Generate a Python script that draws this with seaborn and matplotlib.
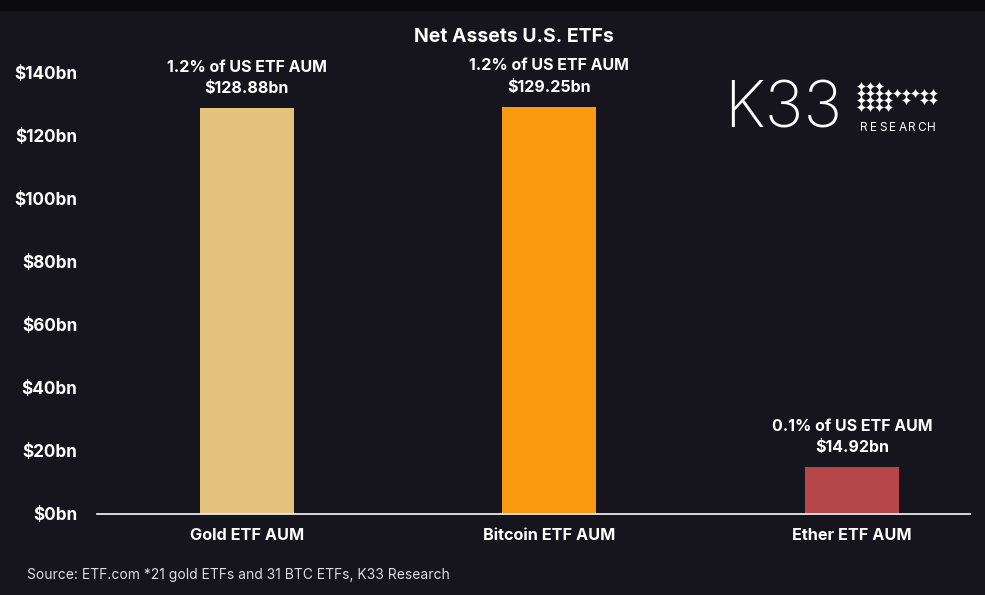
import matplotlib
matplotlib.use("Agg")
import matplotlib.pyplot as plt
import seaborn as sns
import pandas as pd
from matplotlib.patches import Rectangle

categories = ["Gold ETF AUM", "Bitcoin ETF AUM", "Ether ETF AUM"]
values = [128.88, 129.25, 14.92]
shares = ["1.2% of US ETF AUM", "1.2% of US ETF AUM", "0.1% of US ETF AUM"]
value_labels = ["$128.88bn", "$129.25bn", "$14.92bn"]
colors = ["#e2c27c", "#f99a10", "#b4464a"]
yticks = [0, 20, 40, 60, 80, 100, 120, 140]
ytick_labels = ["$0bn", "$20bn", "$40bn", "$60bn", "$80bn", "$100bn", "$120bn", "$140bn"]

bg = "#16151d"
sns.set_theme(style="dark")
plt.rcParams["font.family"] = ["Inter", "DejaVu Sans"]

fig = plt.figure(figsize=(9.85, 5.95), dpi=100, facecolor=bg)
ax = fig.add_axes([97/985, 81/595, 873/985, 459/595])
ax.set_facecolor(bg)

df = pd.DataFrame({"cat": categories, "val": values})
sns.barplot(data=df, x="cat", y="val", hue="cat", palette=colors, width=0.31,
            legend=False, ax=ax, saturation=1, linewidth=0)

ax.set_xlim(-0.495, 2.39)
ax.set_ylim(0, 145.7)
ax.set_yticks(yticks)
ax.set_yticklabels(ytick_labels, color="white", fontsize=12.3, fontweight="bold")
ax.tick_params(axis="y", length=0, pad=14)
ax.tick_params(axis="x", length=0, pad=10, labelsize=11.7, labelcolor="white")
for t in ax.get_xticklabels():
    t.set_fontweight("bold")
ax.set_xlabel("")
ax.set_ylabel("")
ax.grid(False)
for s in ["top", "right", "left"]:
    ax.spines[s].set_visible(False)
ax.spines["bottom"].set_color("#e8e8e8")
ax.spines["bottom"].set_linewidth(1.3)

for i, (v, s, vl) in enumerate(zip(values, shares, value_labels)):
    ax.annotate(s, (i, v), xytext=(0, 29.5), textcoords="offset points", ha="center",
                va="center", color="white", fontsize=11.5, fontweight="bold")
    ax.annotate(vl, (i, v), xytext=(0, 14), textcoords="offset points", ha="center",
                va="center", color="white", fontsize=11.5, fontweight="bold")

fig.text(514/985, 1 - 37/595, "Net Assets U.S. ETFs", ha="center", va="center",
         color="white", fontsize=14, fontweight="bold")
fig.text(27/985, 1 - 575/595, "Source: ETF.com *21 gold ETFs and 31 BTC ETFs, K33 Research",
         ha="left", va="center", color="#dcdcdc", fontsize=10)

# top dark band
fig.patches.append(Rectangle((0, 1 - 10/595), 1, 10/595, transform=fig.transFigure,
                             color="#0b0b0e", zorder=0))

# K33 logo
fig.text(724/985, 1 - 110/595, "K33", ha="left", va="center", color="white",
         fontsize=47, fontweight="light")
for k, ch in enumerate("RESEARCH"):
    fig.text((864 + k * 9.6)/985, 1 - 128/595, ch, ha="center", va="center",
             color="white", fontsize=8.5)
logo = fig.add_axes([856/985, 1 - 111/595, 81/985, 29/595])
logo.set_axis_off()
logo.set_xlim(-0.5, 8.5)
logo.set_ylim(-0.5, 3.5)
pts = []
for col in range(4):
    for row in range(4):
        if not (row == 3 and col == 3):
            pts.append((col, row))
for col in range(4, 9):
    pts.append((col, 2))
for col in (5, 7, 8):
    pts.append((col, 1))
logo.scatter([p[0] for p in pts], [p[1] for p in pts], marker=(4, 1, 0), s=40,
             color="white", linewidths=0)

fig.savefig("out.png", dpi=100, facecolor=bg)
